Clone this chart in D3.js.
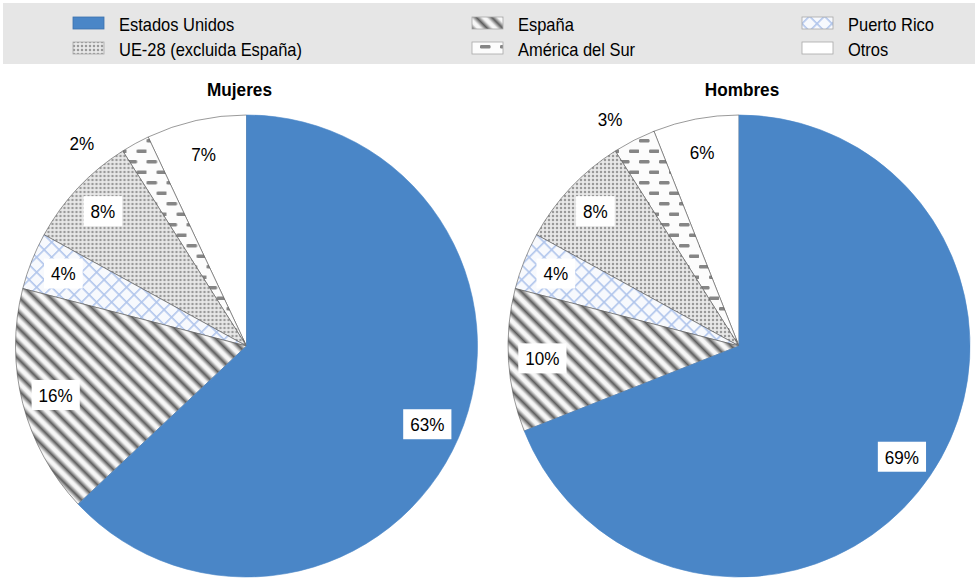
<!DOCTYPE html>
<html>
<head>
<meta charset="utf-8">
<script src="https://cdn.jsdelivr.net/npm/d3@7"></script>
<style>
  body { margin: 0; background: #fff; }
  text { font-family: "Liberation Sans", Arial, sans-serif; fill: #000; }
</style>
</head>
<body>
<svg id="chart"></svg>
<script>
// data
var categories = ["Estados Unidos", "España", "Puerto Rico", "UE-28 (excluida España)", "América del Sur", "Otros"];
var mujeres = [63, 16, 4, 8, 2, 7];
var hombres = [69, 10, 4, 8, 3, 6];
var panelTitles = ["Mujeres", "Hombres"];
var legendOrder = ["Estados Unidos", "UE-28 (excluida España)", "España", "América del Sur", "Puerto Rico", "Otros"];

var width = 977, height = 578;
var R = 231;
var panels = [
  { title: panelTitles[0], values: mujeres, cx: 246.5, cy: 346, titleX: 239.5, outsideNudge: -10.3 },
  { title: panelTitles[1], values: hombres, cx: 739, cy: 346, titleX: 742, outsideNudge: -2.6 }
];

var svg = d3.select("#chart").attr("width", width).attr("height", height);
var defs = svg.append("defs");

// patterns
var g1 = defs.append("linearGradient").attr("id", "gStripe").attr("x1", 0).attr("x2", 1).attr("y1", 0).attr("y2", 0);
g1.append("stop").attr("offset", 0).attr("stop-color", "#fbfbfb");
g1.append("stop").attr("offset", 0.15).attr("stop-color", "#f0f0f0");
g1.append("stop").attr("offset", 0.5).attr("stop-color", "#5e5e5e");
g1.append("stop").attr("offset", 0.85).attr("stop-color", "#f0f0f0");
g1.append("stop").attr("offset", 1).attr("stop-color", "#fbfbfb");
var pEsp = defs.append("pattern").attr("id", "pEsp").attr("patternUnits", "userSpaceOnUse")
  .attr("width", 11).attr("height", 11).attr("patternTransform", "rotate(-45)");
pEsp.append("rect").attr("width", 11).attr("height", 11).attr("fill", "url(#gStripe)");

var pPr = defs.append("pattern").attr("id", "pPr").attr("patternUnits", "userSpaceOnUse")
  .attr("width", 10.6).attr("height", 10.6).attr("patternTransform", "rotate(45)");
pPr.append("rect").attr("width", 10.6).attr("height", 10.6).attr("fill", "#f7f9fd");
pPr.append("rect").attr("width", 1.6).attr("height", 10.6).attr("fill", "#b0c5ec");
pPr.append("rect").attr("width", 10.6).attr("height", 1.6).attr("fill", "#b0c5ec");

var pUe = defs.append("pattern").attr("id", "pUe").attr("patternUnits", "userSpaceOnUse")
  .attr("width", 4).attr("height", 4);
pUe.append("rect").attr("width", 4).attr("height", 4).attr("fill", "#e8e8e8");
pUe.append("circle").attr("cx", 2).attr("cy", 2).attr("r", 1.25).attr("fill", "#999");

var pAs = defs.append("pattern").attr("id", "pAs").attr("patternUnits", "userSpaceOnUse")
  .attr("width", 20).attr("height", 21);
pAs.append("rect").attr("width", 20).attr("height", 21).attr("fill", "#fcfcfc");
pAs.append("rect").attr("x", 0).attr("y", 3).attr("width", 10.5).attr("height", 3.4).attr("rx", 1.2).attr("fill", "#858585");
pAs.append("rect").attr("x", 10).attr("y", 13.5).attr("width", 10.5).attr("height", 3.4).attr("rx", 1.2).attr("fill", "#858585");

var fills = d3.scaleOrdinal().domain(categories)
  .range(["#4a86c7", "url(#pEsp)", "url(#pPr)", "url(#pUe)", "url(#pAs)", "#ffffff"]);

// legend
svg.append("rect").attr("x", 3).attr("y", 3).attr("width", 972).attr("height", 61).attr("fill", "#e6e6e6");
var colX = [73, 472, 802];
var rowY = [17, 42];
legendOrder.forEach(function (c, i) {
  var x = colX[Math.floor(i / 2)], y = rowY[i % 2];
  svg.append("rect").attr("x", x).attr("y", y).attr("width", 31).attr("height", 12)
    .attr("fill", fills(c))
    .attr("stroke", c == "Estados Unidos" ? "#3d72ad" : "#a8a8a8").attr("stroke-width", 0.8);
  svg.append("text").attr("transform", "translate(" + (x + 46) + "," + (y + 13.5) + ") scale(0.89,1)")
    .style("font-size", "18.5px").text(c);
});

var pie = d3.pie().sort(null).value(function (d) { return d; });
var arc = d3.arc().innerRadius(0).outerRadius(R);
var labelArc = d3.arc().innerRadius(197).outerRadius(197);

panels.forEach(function (p) {
  var g = svg.append("g").attr("transform", "translate(" + p.cx + "," + p.cy + ")");
  var arcs = pie(p.values);
  arcs.forEach(function (a, i) { a.cat = categories[i]; });

  // blue slice drawn last so the dark edge lines stay off it
  g.selectAll("path").data(arcs.slice().reverse()).enter().append("path")
    .attr("d", arc)
    .attr("fill", function (d) { return fills(d.cat); })
    .attr("stroke", function (d) { return d.cat == "Estados Unidos" ? "#4a86c7" : "#555"; })
    .attr("stroke-width", 0.6);

  svg.append("text").attr("transform", "translate(" + p.titleX + ",96) scale(0.955,1)")
    .attr("text-anchor", "middle").style("font-size", "18px").style("font-weight", "bold").text(p.title);

  arcs.forEach(function (a) {
    var pct = a.data + "%";
    var pos;
    var outside = a.data < 4;
    if (outside) {
      var ang = (a.startAngle + a.endAngle) / 2 + p.outsideNudge * Math.PI / 180;
      pos = [261 * Math.sin(ang), -261 * Math.cos(ang)];
    } else {
      pos = labelArc.centroid(a);
    }
    var lg = g.append("g").attr("transform", "translate(" + pos[0] + "," + pos[1] + ")");
    var box = lg.append("rect").attr("fill", "#fff");
    var t = lg.append("text").attr("transform", "translate(0,6.8) scale(0.9,1)")
      .attr("text-anchor", "middle").style("font-size", "19px").text(pct);
    var w = t.node().getComputedTextLength() * 0.9;
    if (!outside) {
      box.attr("x", -w / 2 - 7).attr("y", -15).attr("width", w + 14).attr("height", 30);
    } else {
      box.remove();
    }
  });
});
</script>
</body>
</html>
